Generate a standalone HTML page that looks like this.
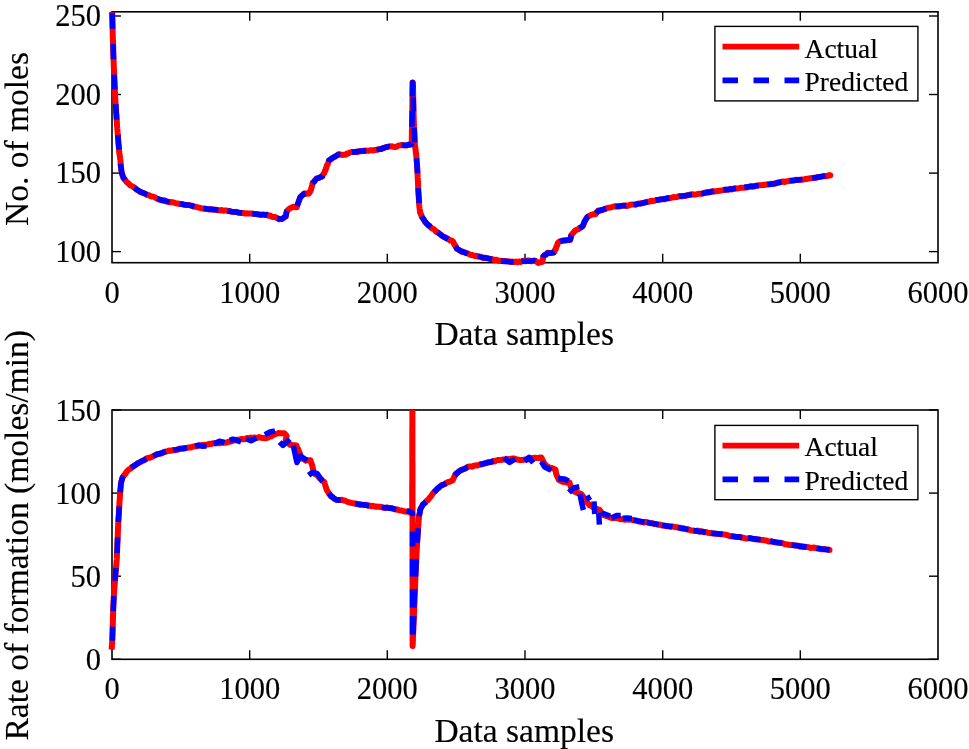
<!DOCTYPE html><html><head><meta charset="utf-8"><style>html,body{margin:0;padding:0;background:#fff;overflow:hidden}svg{display:block;will-change:transform}text{font-family:"Liberation Serif",serif;fill:#000;stroke:#000;stroke-width:0.15px}</style></head><body>
<svg width="969" height="749" viewBox="0 0 969 749">
<defs><clipPath id="c1"><rect x="100" y="11.8" width="850" height="270"/></clipPath><clipPath id="c2"><rect x="100" y="410.0" width="850" height="270"/></clipPath></defs>
<g stroke="#000" stroke-width="1.4" fill="none">
<rect x="112.0" y="11.8" width="826.0" height="250.89999999999998" stroke-width="1.6"/>
<line x1="249.7" y1="262.7" x2="249.7" y2="253.7"/>
<line x1="249.7" y1="11.8" x2="249.7" y2="20.8"/>
<line x1="387.3" y1="262.7" x2="387.3" y2="253.7"/>
<line x1="387.3" y1="11.8" x2="387.3" y2="20.8"/>
<line x1="525.0" y1="262.7" x2="525.0" y2="253.7"/>
<line x1="525.0" y1="11.8" x2="525.0" y2="20.8"/>
<line x1="662.7" y1="262.7" x2="662.7" y2="253.7"/>
<line x1="662.7" y1="11.8" x2="662.7" y2="20.8"/>
<line x1="800.3" y1="262.7" x2="800.3" y2="253.7"/>
<line x1="800.3" y1="11.8" x2="800.3" y2="20.8"/>
<line x1="112.0" y1="251.6" x2="121.0" y2="251.6"/>
<line x1="938.0" y1="251.6" x2="929.0" y2="251.6"/>
<line x1="112.0" y1="173.1" x2="121.0" y2="173.1"/>
<line x1="938.0" y1="173.1" x2="929.0" y2="173.1"/>
<line x1="112.0" y1="94.5" x2="121.0" y2="94.5"/>
<line x1="938.0" y1="94.5" x2="929.0" y2="94.5"/>
<line x1="112.0" y1="16.0" x2="121.0" y2="16.0"/>
<line x1="938.0" y1="16.0" x2="929.0" y2="16.0"/>
<rect x="112.0" y="410.0" width="826.0" height="249.29999999999995" stroke-width="1.6"/>
<line x1="249.7" y1="659.3" x2="249.7" y2="650.3"/>
<line x1="249.7" y1="410.0" x2="249.7" y2="419.0"/>
<line x1="387.3" y1="659.3" x2="387.3" y2="650.3"/>
<line x1="387.3" y1="410.0" x2="387.3" y2="419.0"/>
<line x1="525.0" y1="659.3" x2="525.0" y2="650.3"/>
<line x1="525.0" y1="410.0" x2="525.0" y2="419.0"/>
<line x1="662.7" y1="659.3" x2="662.7" y2="650.3"/>
<line x1="662.7" y1="410.0" x2="662.7" y2="419.0"/>
<line x1="800.3" y1="659.3" x2="800.3" y2="650.3"/>
<line x1="800.3" y1="410.0" x2="800.3" y2="419.0"/>
<line x1="112.0" y1="659.3" x2="121.0" y2="659.3"/>
<line x1="938.0" y1="659.3" x2="929.0" y2="659.3"/>
<line x1="112.0" y1="576.2" x2="121.0" y2="576.2"/>
<line x1="938.0" y1="576.2" x2="929.0" y2="576.2"/>
<line x1="112.0" y1="493.1" x2="121.0" y2="493.1"/>
<line x1="938.0" y1="493.1" x2="929.0" y2="493.1"/>
<line x1="112.0" y1="410.0" x2="121.0" y2="410.0"/>
<line x1="938.0" y1="410.0" x2="929.0" y2="410.0"/>
</g>
<g font-size="30.5" text-anchor="middle">
<text x="112.0" y="303.2">0</text>
<text x="112.0" y="699.0">0</text>
<text x="249.7" y="303.2">1000</text>
<text x="249.7" y="699.0">1000</text>
<text x="387.3" y="303.2">2000</text>
<text x="387.3" y="699.0">2000</text>
<text x="525.0" y="303.2">3000</text>
<text x="525.0" y="699.0">3000</text>
<text x="662.7" y="303.2">4000</text>
<text x="662.7" y="699.0">4000</text>
<text x="800.3" y="303.2">5000</text>
<text x="800.3" y="699.0">5000</text>
<text x="938.0" y="303.2">6000</text>
<text x="938.0" y="699.0">6000</text>
</g><g font-size="30.5" text-anchor="end">
<text x="101" y="261.6">100</text>
<text x="101" y="183.1">150</text>
<text x="101" y="104.5">200</text>
<text x="101" y="26.0">250</text>
<text x="101" y="670.1">0</text>
<text x="101" y="587.0">50</text>
<text x="101" y="503.9">100</text>
<text x="101" y="420.8">150</text>
</g>
<g font-size="33" text-anchor="middle">
<text transform="translate(524.2,344.8) scale(1.016,1)">Data samples</text>
<text transform="translate(524.2,741.7) scale(1.016,1)">Data samples</text>
<text transform="translate(28.1,139.0) rotate(-90) scale(1.016,1)">No. of moles</text>
<text transform="translate(28.1,535.3) rotate(-90) scale(1.016,1)">Rate of formation (moles/min)</text>
</g>
<g clip-path="url(#c1)" fill="none" stroke-width="5.7" stroke-linejoin="round">
<polyline points="112.2,11.8 112.2,13.3 112.3,15.1 112.3,17.1 112.4,19.1 112.4,20.8 112.4,22.4 112.5,24.8 112.5,26.1 112.6,28.6 112.6,29.9 112.7,31.5 112.7,33.7 112.8,35.5 112.8,38.0 112.9,39.8 113.0,41.5 113.0,43.2 113.1,45.2 113.2,47.4 113.2,49.5 113.3,51.1 113.3,53.4 113.4,55.3 113.5,57.5 113.5,58.9 113.6,60.7 113.7,63.2 113.8,64.9 113.8,67.0 113.9,68.8 114.0,70.5 114.1,72.7 114.2,74.5 114.3,76.9 114.3,78.6 114.4,80.6 114.5,82.8 114.6,84.1 114.7,86.4 114.8,88.1 114.8,89.8 114.9,92.3 115.0,93.8 115.1,96.3 115.2,97.8 115.4,100.2 115.5,102.1 115.6,103.6 115.8,106.0 115.9,107.2 116.0,109.3 116.1,111.4 116.2,113.2 116.4,115.2 116.5,117.3 116.6,119.4 116.8,121.2 116.9,122.7 117.0,125.3 117.2,127.2 117.3,128.8 117.5,130.9 117.6,132.3 117.8,134.4 118.0,136.2 118.1,138.2 118.3,140.3 118.4,142.7 118.6,144.0 118.8,146.1 118.9,147.9 119.1,150.6 119.2,152.1 119.4,153.6 119.7,155.3 119.9,156.7 120.2,158.9 120.4,159.7 120.5,161.3 120.6,164.0 120.7,165.5 121.0,167.1 121.2,169.3 121.5,171.2 121.7,172.6 122.3,174.8 122.8,176.3 123.4,177.8 124.3,178.9 125.1,179.7 126.0,181.2 127.4,182.8 128.9,183.8 130.3,185.5 131.9,186.0 133.5,187.0 135.1,188.0 136.7,189.7 138.3,190.4 139.9,191.8 141.4,192.3 142.9,193.0 144.4,193.4 145.9,194.3 147.4,195.0 149.2,195.3 151.1,196.5 152.9,196.5 154.8,197.2 156.7,198.5 158.5,199.3 160.3,199.8 162.2,200.4 164.1,200.3 166.1,201.3 168.0,201.9 170.0,202.3 171.9,202.1 173.9,202.5 175.8,203.2 177.8,203.4 179.7,204.1 181.7,204.0 183.6,204.8 185.6,205.1 187.5,205.1 189.5,205.0 191.4,205.6 193.4,206.5 195.3,206.7 197.2,207.2 199.2,207.6 201.1,208.3 203.1,208.5 205.0,208.7 206.8,209.1 208.7,209.4 210.6,209.3 212.4,209.5 214.2,209.8 216.1,209.8 217.9,210.3 219.8,210.4 221.7,210.0 223.5,210.8 225.4,210.3 227.3,210.8 229.2,210.9 231.1,211.6 233.0,212.0 234.8,212.1 236.7,211.8 238.6,212.8 240.5,213.1 242.4,212.9 244.3,213.4 246.2,213.3 248.1,213.4 250.0,213.5 251.8,213.4 253.7,213.9 255.6,213.9 257.5,214.2 259.4,214.8 261.3,214.9 263.1,214.4 265.0,215.0 266.9,214.6 268.5,215.7 270.2,215.6 271.9,216.7 273.5,217.0 275.3,217.1 277.2,218.1 279.0,219.3 280.4,219.1 281.9,219.1 283.2,218.3 284.5,217.0 285.8,216.7 286.1,214.4 286.4,212.9 286.7,211.2 287.7,210.3 288.6,209.5 289.6,208.5 290.9,207.9 292.2,207.3 293.5,206.8 295.1,207.2 296.8,207.2 297.3,205.1 297.8,203.7 298.4,202.4 299.0,200.5 299.6,199.2 300.2,197.4 301.5,196.1 302.7,194.8 304.0,193.5 305.6,193.9 307.2,193.2 308.8,193.6 309.8,192.0 310.8,190.2 311.3,188.4 311.8,186.5 312.2,185.0 312.7,182.7 314.0,181.8 315.2,180.0 316.5,178.7 317.9,178.2 319.4,177.6 320.9,176.8 322.3,176.3 323.2,174.3 324.2,172.9 324.8,171.6 325.4,170.2 325.9,168.8 326.5,166.8 327.1,165.1 327.8,163.8 328.4,162.3 329.1,160.4 330.4,159.7 331.7,158.5 333.0,157.9 334.3,157.0 335.7,156.4 337.0,155.5 338.4,154.2 340.2,154.5 342.0,154.9 343.8,154.7 345.6,154.8 347.0,153.5 348.4,153.4 349.8,152.5 351.4,152.0 352.9,152.0 354.4,151.9 356.0,151.7 357.7,152.1 359.4,151.2 361.1,151.2 362.9,151.1 364.7,150.6 366.5,150.8 368.3,150.8 370.0,150.3 371.8,150.3 373.5,150.5 375.1,149.9 376.6,149.8 378.1,149.3 379.7,149.1 381.4,149.1 383.2,148.0 384.9,147.8 386.3,146.9 387.6,147.1 389.0,146.5 390.6,146.5 392.1,146.3 393.6,146.8 395.2,147.1 396.9,146.7 398.6,145.4 400.3,145.3 401.9,145.1 403.4,145.2 404.9,145.6 406.5,145.5 408.2,144.6 410.0,144.8 411.7,144.1 411.7,142.3 411.8,140.6 411.8,138.5 411.8,136.3 411.9,135.1 411.9,133.3 411.9,130.8 412.0,128.8 412.0,127.6 412.0,125.5 412.1,123.7 412.1,121.5 412.1,119.1 412.2,117.6 412.2,115.8 412.2,113.4 412.3,111.6 412.3,109.9 412.3,108.3 412.3,105.9 412.4,103.9 412.4,102.0 412.4,99.9 412.4,98.6 412.5,96.0 412.5,94.7 412.5,92.0 412.5,90.0 412.5,88.0 412.6,86.2 412.6,84.8 412.6,82.4 412.9,82.5 412.9,84.3 413.0,86.2 413.0,88.1 413.1,90.5 413.1,92.1 413.2,94.1 413.2,96.3 413.2,98.6 413.3,99.8 413.3,102.4 413.4,104.2 413.4,105.7 413.4,108.5 413.5,110.5 413.5,111.9 413.6,113.8 413.6,116.2 413.7,118.2 413.7,120.2 413.8,122.0 413.9,124.1 414.0,126.2 414.1,127.6 414.2,129.5 414.3,131.9 414.3,133.2 414.4,135.6 414.5,137.3 414.6,139.0 414.7,141.4 414.8,143.5 414.9,145.3 415.1,146.8 415.4,148.9 415.6,150.0 415.8,152.3 416.1,153.7 416.3,156.0 416.4,157.0 416.6,159.1 416.7,160.7 416.9,163.0 417.0,164.3 417.1,166.2 417.3,168.0 417.4,170.2 417.5,172.2 417.6,173.4 417.6,175.4 417.7,177.7 417.8,179.0 417.9,181.3 418.0,182.3 418.1,184.4 418.1,186.7 418.2,188.6 418.3,189.8 418.4,192.3 418.5,193.3 418.6,195.5 418.8,197.3 418.9,198.9 419.0,201.1 419.1,202.8 419.2,204.7 419.4,207.1 419.6,208.6 419.9,210.5 420.1,212.8 420.7,213.7 421.2,214.8 421.8,216.9 422.4,217.6 423.3,218.9 424.2,220.3 425.2,222.2 426.1,222.9 427.3,224.3 428.5,225.4 429.6,226.0 430.8,227.5 432.2,228.5 433.6,229.0 435.0,230.4 436.4,231.9 437.8,232.3 439.1,233.5 440.5,234.3 441.9,235.8 443.5,236.8 445.1,237.3 446.8,238.3 448.4,239.0 450.0,240.4 451.5,240.5 453.1,241.7 454.0,243.7 454.9,245.3 455.5,245.8 456.2,247.4 456.8,248.6 458.3,249.5 459.9,250.6 461.4,251.7 462.9,251.6 464.4,252.3 465.9,253.0 467.4,253.4 468.9,254.0 470.7,255.0 472.6,255.0 474.4,256.0 476.3,255.8 478.1,256.6 480.0,256.5 481.8,257.5 483.7,258.0 485.5,257.8 487.4,258.1 489.3,258.8 491.1,259.0 493.0,259.4 494.8,260.1 496.7,259.8 498.4,260.7 500.0,260.8 501.6,260.8 503.1,261.2 504.6,261.0 506.2,261.2 507.8,261.3 509.3,261.4 510.8,261.9 512.4,261.6 514.1,262.0 515.8,261.6 517.5,262.2 519.0,261.5 520.6,261.9 522.2,261.2 523.7,260.8 525.5,261.3 527.4,260.6 529.2,260.6 531.0,261.3 532.5,260.9 534.1,260.7 535.5,260.8 536.8,261.8 538.2,262.9 539.6,262.4 540.9,262.2 542.3,261.8 542.6,260.5 543.0,258.2 543.3,256.7 544.7,254.9 546.1,254.7 547.5,252.8 549.0,253.0 550.6,253.1 552.2,252.5 553.7,252.4 554.4,251.8 555.0,250.0 555.7,249.0 556.2,247.4 556.8,245.8 557.3,244.8 557.8,243.0 559.2,241.8 560.5,241.2 561.9,240.8 563.6,240.4 565.2,240.5 566.9,240.3 568.5,239.9 570.2,239.9 570.5,238.2 570.9,237.3 571.2,235.3 572.2,233.9 573.3,232.8 574.3,231.4 575.6,230.3 576.9,229.6 578.2,229.4 579.5,228.0 581.0,227.3 582.6,226.1 583.3,225.1 583.9,223.2 584.6,221.6 585.6,220.0 586.7,217.8 587.7,216.9 589.1,215.9 590.6,215.2 592.2,214.7 593.8,214.1 595.3,214.3 596.3,212.7 597.4,211.7 598.4,210.5 600.2,210.7 602.0,210.1 603.8,209.5 605.6,208.7 607.1,208.1 608.7,207.7 610.2,207.5 611.8,207.1 613.7,206.5 615.5,206.3 617.4,206.5 619.2,206.5 621.1,205.9 623.0,205.6 624.8,205.5 626.7,206.0 628.5,205.5 630.4,204.7 632.1,204.5 633.8,204.5 635.5,204.7 637.3,203.9 639.0,203.4 640.7,203.5 642.4,203.0 644.1,202.8 645.9,202.0 647.6,201.8 649.3,201.8 651.0,200.7 652.7,200.9 654.5,200.7 656.2,200.0 657.9,200.1 659.7,199.5 661.4,199.3 663.1,199.3 664.8,199.2 666.6,198.5 668.3,198.0 670.0,198.2 671.7,197.7 673.4,197.0 675.1,197.2 676.9,197.0 678.6,196.3 680.3,196.1 682.0,196.4 683.7,196.0 685.5,195.9 687.2,195.3 688.9,195.0 690.6,194.4 692.3,194.2 694.1,194.7 695.8,194.6 697.5,193.9 699.3,193.8 701.0,193.7 702.7,193.5 704.4,192.8 706.1,192.3 707.9,192.1 709.6,192.4 711.3,191.5 713.0,191.3 714.7,191.5 716.5,191.1 718.2,191.1 719.9,190.7 721.6,190.4 723.3,190.1 725.0,189.6 726.8,189.7 728.5,189.8 730.2,188.8 731.9,189.5 733.6,188.5 735.3,188.2 737.0,188.4 738.8,188.2 740.5,187.8 742.2,187.8 743.9,187.7 745.7,187.5 747.4,187.4 749.1,186.6 750.9,186.2 752.6,186.8 754.3,186.5 756.0,185.8 757.8,185.4 759.5,185.2 761.2,185.2 762.9,184.8 764.7,185.0 766.5,184.4 768.2,184.4 770.0,184.2 771.8,183.8 773.6,183.9 775.5,183.5 777.3,182.7 779.2,182.2 781.0,181.9 782.9,181.5 784.7,182.0 786.6,181.2 788.4,181.2 790.3,180.7 792.1,180.7 794.0,180.6 795.8,179.8 797.7,179.9 799.5,179.8 801.4,179.8 803.3,179.6 805.1,179.0 807.0,178.9 808.8,178.4 810.7,178.2 812.6,178.0 814.4,177.8 816.3,177.8 818.1,177.0 820.0,176.9 821.7,176.6 823.4,176.1 825.1,176.3 826.8,176.0 828.5,175.5 830.2,175.3" stroke="#ff0000" stroke-width="6.0" stroke-linecap="butt"/>
<circle cx="830.2" cy="175.3" r="3.0" fill="#ff0000" stroke="none"/>
<path d="M112.2,12.7 L112.6,28.8 M113.1,44.0 L113.5,59.2 M114.2,74.7 L114.8,89.5 M115.7,104.1 L116.7,119.6 M117.8,134.9 L119.0,149.5 M120.6,163.8 L121.7,172.8 L123.4,177.6 L125.0,180.0 M134.1,187.7 L139.9,191.5 L147.4,194.7 M157.2,198.5 L162.2,200.4 L169.7,201.9 M179.9,203.8 L189.5,205.4 L194.5,206.5 M203.5,208.6 L218.4,210.0 M227.3,210.9 L242.1,212.9 M252.1,213.8 L266.9,214.9 L267.5,215.1 M277.1,218.2 L279.0,218.9 L281.9,218.8 L285.8,216.3 L286.7,211.5 L287.1,211.1 M297.2,205.8 L300.2,197.1 L304.0,193.8 L305.7,193.6 M312.5,183.6 L316.5,178.8 L322.3,176.4 L322.7,175.6 M328.5,161.9 L329.1,160.3 L334.3,156.7 L338.4,154.6 L340.4,154.6 M351.9,152.3 L361.1,151.0 L366.2,151.0 M376.5,149.9 L379.7,149.4 L384.9,147.4 L389.0,146.4 L389.9,146.5 M401.5,145.3 L406.5,145.3 L411.7,144.3 L411.7,143.4 M412.0,126.7 L412.3,110.9 M412.4,96.5 L412.6,82.5 L413.0,87.9 M413.2,97.4 L413.5,111.4 M414.1,127.7 L414.8,142.3 M416.5,158.2 L417.5,173.3 M418.2,188.2 L419.1,203.2 M421.7,216.4 L426.1,223.1 L430.6,227.1 M437.4,232.2 L441.9,235.6 L448.1,239.3 M455.6,246.2 L456.8,248.6 L461.4,251.4 L467.8,253.8 M477.8,256.4 L492.0,259.3 M500.9,261.0 L512.4,262.0 L513.5,262.0 M521.3,261.3 L531.0,260.9 L534.1,260.4 L535.4,261.1 M543.1,257.4 L543.3,256.3 L547.5,253.2 L553.7,252.7 L554.0,252.2 M560.1,241.7 L561.9,240.8 L570.2,239.8 L571.2,235.6 L571.5,235.1 M579.5,228.4 L582.6,226.4 L584.6,221.2 L587.7,216.5 L588.5,216.2 M595.9,213.3 L598.4,210.8 L606.2,208.5 M615.0,206.5 L626.3,205.6 M633.6,204.6 L640.7,203.6 L647.9,201.8 M655.6,200.3 L669.4,198.0 M678.8,196.5 L692.1,194.6 M701.0,193.7 L714.2,191.2 M723.1,190.0 L731.9,189.1 L736.0,188.5 M744.3,187.3 L758.8,185.6 M767.1,184.5 L773.6,183.7 L781.7,182.0 M789.5,180.8 L802.3,179.4 M812.2,178.3 L820.0,176.7 L825.5,175.9" stroke="#0000ff" stroke-width="5.5" stroke-linecap="butt"/>
</g>
<g clip-path="url(#c2)" fill="none" stroke-width="5.7" stroke-linejoin="round">
<polyline points="111.7,649.7 111.8,647.4 111.9,645.4 112.1,643.8 112.2,641.9 112.3,639.9 112.4,637.7 112.4,636.5 112.5,634.1 112.5,632.8 112.6,630.4 112.6,628.2 112.7,626.5 112.8,624.5 112.8,623.3 112.9,621.3 112.9,619.3 113.0,617.2 113.0,615.5 113.1,613.9 113.1,612.2 113.2,610.2 113.2,608.7 113.3,606.8 113.4,605.1 113.5,602.7 113.6,600.6 113.7,599.3 113.8,597.1 113.9,595.4 114.0,593.4 114.1,591.2 114.3,589.5 114.4,587.5 114.6,586.0 114.7,583.8 114.9,581.9 115.0,580.3 115.2,577.7 115.3,576.2 115.5,574.2 115.6,572.1 115.8,570.9 115.9,568.7 116.1,567.4 116.2,565.3 116.4,563.9 116.5,562.1 116.7,559.9 116.8,558.4 116.9,555.9 116.9,554.0 117.0,552.4 117.1,550.3 117.2,548.5 117.3,546.7 117.3,544.9 117.4,543.0 117.5,540.6 117.6,539.3 117.7,537.4 117.8,535.1 117.8,533.5 117.9,531.0 118.0,529.2 118.1,527.2 118.2,525.4 118.2,523.7 118.3,522.2 118.4,519.7 118.5,517.9 118.7,515.7 118.8,514.5 118.9,512.0 119.0,509.7 119.2,507.9 119.3,505.8 119.4,504.5 119.5,501.8 119.7,499.7 119.8,498.6 119.9,496.4 120.1,494.1 120.2,492.5 120.4,490.6 120.5,488.2 120.7,487.0 120.8,484.9 121.0,482.9 121.5,480.9 122.1,478.7 122.6,477.2 123.5,476.2 124.5,474.7 125.5,473.8 126.4,471.9 127.7,470.6 129.1,469.3 130.4,468.8 131.7,467.2 133.2,466.5 134.7,465.4 136.2,464.6 137.7,463.3 139.2,462.7 140.9,461.8 142.6,460.6 144.3,460.3 146.0,458.7 147.7,457.9 149.5,457.8 151.3,457.1 153.1,456.2 154.8,455.4 156.6,454.2 158.4,454.0 160.2,453.8 162.0,453.2 163.8,452.0 165.5,451.6 167.3,451.3 169.1,450.6 171.1,450.8 173.0,450.1 175.0,450.2 176.7,449.9 178.4,449.3 180.2,448.5 181.9,448.4 183.6,448.7 185.3,448.1 187.0,447.9 188.7,447.5 190.4,447.5 192.2,447.0 193.9,446.4 195.6,446.3 197.3,446.2 199.1,445.6 200.8,445.3 202.5,445.1 204.3,444.7 206.0,444.7 207.7,444.5 209.4,443.7 211.2,444.1 212.9,443.2 214.6,443.3 216.3,443.0 218.0,443.2 219.7,443.2 221.4,442.9 223.2,442.2 224.9,442.8 226.6,442.6 228.3,441.8 230.0,441.8 231.8,441.1 233.5,440.7 235.2,440.3 236.9,439.7 238.6,439.7 240.3,439.3 242.1,439.1 243.8,439.2 245.5,438.9 247.2,437.9 248.9,438.3 250.7,437.6 252.4,438.2 254.1,437.5 255.9,438.0 257.6,437.7 258.8,437.1 260.0,437.3 261.9,438.0 263.7,438.1 265.6,438.3 267.5,437.7 269.3,436.5 271.2,436.4 272.7,435.1 274.2,434.6 275.7,434.0 277.2,433.5 278.7,433.0 280.6,433.2 282.4,433.2 284.3,433.3 285.5,434.4 286.6,436.0 286.3,437.5 286.0,438.8 285.7,440.6 287.1,442.2 288.5,443.2 289.9,444.8 291.5,445.0 293.1,445.2 294.8,445.3 296.4,445.5 297.1,447.5 297.9,448.5 298.6,450.7 299.3,452.1 299.9,453.5 300.5,455.6 301.1,457.5 302.7,458.8 304.2,459.4 305.8,460.7 307.4,460.2 308.9,460.2 310.5,460.3 311.1,462.2 311.7,463.8 312.3,465.8 312.6,467.1 313.0,469.0 313.4,470.9 313.7,472.6 315.0,474.0 316.3,474.6 317.6,475.6 318.9,477.2 320.2,478.6 321.6,479.7 322.9,481.1 324.3,482.0 324.9,484.1 325.5,485.9 326.0,487.8 326.6,489.4 327.2,490.6 328.2,492.2 329.3,494.1 330.3,495.2 331.4,496.7 332.7,497.0 333.9,498.5 335.2,499.2 336.5,499.7 338.3,499.9 340.1,499.9 341.9,499.8 343.7,500.5 345.5,500.8 347.4,501.8 349.2,502.5 351.0,502.8 352.7,503.2 354.4,503.6 356.1,503.6 357.9,504.1 359.6,504.7 361.3,504.6 363.0,504.9 364.7,504.8 366.5,505.0 368.2,505.9 369.9,505.6 371.6,506.2 373.3,505.8 375.0,506.7 376.8,506.6 378.5,506.8 380.2,506.7 381.9,507.3 383.6,507.7 385.3,508.0 387.0,507.4 388.8,508.0 390.5,508.0 392.2,508.3 393.9,509.1 395.7,509.5 397.4,509.4 399.1,510.3 400.9,510.4 402.6,510.9 404.3,511.4 406.0,511.6 407.7,511.6 409.2,512.3 410.8,512.4 412.2,511.8 412.2,509.8 412.2,508.5 412.2,506.4 412.2,504.5 412.2,502.2 412.2,499.8 412.2,498.2 412.2,496.4 412.2,493.9 412.2,492.0 412.2,490.2 412.2,488.6 412.2,486.2 412.2,484.3 412.3,482.4 412.3,480.3 412.3,479.0 412.3,476.4 412.3,475.1 412.3,472.4 412.3,470.4 412.3,468.4 412.3,466.6 412.3,465.2 412.3,462.8 412.3,460.9 412.3,458.8 412.3,456.8 412.3,454.7 412.3,453.2 412.3,450.8 412.3,448.9 412.3,447.1 412.3,445.5 412.3,442.8 412.3,441.5 412.3,439.3 412.3,436.9 412.3,435.8 412.3,433.7 412.3,431.2 412.3,429.2 412.4,427.7 412.4,425.7 412.4,423.8 412.4,421.7 412.4,419.9 412.4,418.1 412.4,415.5 412.4,413.5 412.4,412.0 412.4,409.4 412.4,407.9 412.4,405.6 412.4,403.5 412.4,401.9 412.4,400.1 412.4,402.0 412.4,403.7 412.4,406.1 412.4,407.5 412.4,410.1 412.4,411.7 412.4,414.3 412.4,415.5 412.4,417.8 412.4,419.6 412.4,422.0 412.4,423.5 412.4,425.6 412.4,427.5 412.4,430.0 412.4,432.1 412.4,433.4 412.4,435.6 412.4,438.1 412.4,439.6 412.4,442.1 412.4,443.2 412.4,445.5 412.4,448.0 412.4,450.0 412.4,451.4 412.4,454.0 412.4,455.1 412.4,457.4 412.4,459.4 412.4,461.1 412.5,463.4 412.5,465.1 412.5,467.2 412.5,469.7 412.5,471.4 412.5,473.4 412.5,475.8 412.5,477.2 412.5,478.9 412.5,481.6 412.5,482.9 412.5,484.9 412.5,487.1 412.5,489.6 412.5,491.1 412.5,493.3 412.5,495.4 412.5,497.0 412.5,499.4 412.5,501.3 412.5,502.7 412.5,505.1 412.5,507.5 412.5,508.9 412.5,511.1 412.5,512.8 412.5,515.3 412.5,517.3 412.5,518.9 412.5,520.9 412.5,522.6 412.5,525.2 412.5,526.6 412.5,529.0 412.5,531.4 412.5,533.4 412.5,534.5 412.5,536.9 412.5,538.8 412.5,540.8 412.5,543.0 412.5,545.1 412.5,546.5 412.5,548.6 412.5,550.7 412.5,552.5 412.5,554.5 412.5,557.1 412.5,558.6 412.5,561.1 412.5,562.4 412.5,564.8 412.5,566.3 412.5,568.9 412.5,571.0 412.5,572.4 412.5,574.3 412.5,576.6 412.5,578.4 412.5,580.5 412.5,582.8 412.6,584.1 412.6,586.6 412.6,588.3 412.6,590.2 412.6,592.5 412.6,594.2 412.6,596.2 412.6,598.1 412.6,600.1 412.6,602.4 412.6,604.0 412.6,606.4 412.6,607.9 412.6,610.5 412.6,612.1 412.6,614.7 412.6,616.3 412.6,618.2 412.6,620.7 412.6,621.9 412.6,623.9 412.6,626.5 412.6,628.4 412.6,630.5 412.6,631.8 412.6,634.1 412.6,636.4 412.6,638.2 412.6,640.1 412.6,641.8 412.6,644.4 412.6,646.0 412.7,644.5 412.8,641.9 412.9,640.7 412.9,638.0 413.0,636.4 413.1,634.7 413.2,632.4 413.3,630.6 413.4,629.3 413.4,626.8 413.5,625.1 413.6,623.2 413.7,621.1 413.8,619.8 413.9,617.6 413.9,615.3 414.0,613.4 414.1,611.9 414.2,609.8 414.3,608.1 414.3,606.3 414.4,604.1 414.5,602.3 414.6,600.0 414.6,598.6 414.7,596.1 414.8,594.1 414.9,592.4 414.9,590.5 415.0,588.2 415.1,586.3 415.1,585.0 415.2,582.4 415.3,580.7 415.4,578.6 415.4,577.4 415.5,575.3 415.6,573.6 415.7,571.7 415.8,569.1 415.9,567.9 416.0,565.5 416.1,563.4 416.2,561.7 416.2,559.7 416.3,558.5 416.4,556.0 416.5,554.2 416.6,552.2 416.7,551.0 416.8,549.1 416.9,547.1 417.0,545.0 417.1,543.0 417.2,541.3 417.4,539.7 417.5,537.9 417.6,535.5 417.8,533.5 417.9,531.9 418.0,530.2 418.1,528.0 418.2,526.1 418.4,524.5 418.5,523.4 418.6,521.4 418.8,519.1 418.9,517.4 419.0,515.9 419.4,514.6 419.8,512.3 420.1,510.3 420.5,508.9 421.3,507.4 422.2,506.1 423.0,504.2 424.1,503.5 425.1,502.9 426.2,501.2 427.5,500.3 428.7,499.1 430.0,497.3 431.1,496.2 432.1,494.5 433.1,493.2 434.2,492.0 435.4,491.0 436.7,489.5 437.9,488.1 439.2,487.5 440.4,486.1 441.9,485.0 443.5,484.6 445.1,483.9 446.6,482.7 448.2,482.0 449.7,481.8 451.2,480.9 452.8,480.2 453.6,478.2 454.5,476.5 455.3,474.4 456.5,473.2 457.8,472.6 459.0,471.5 460.6,470.2 462.3,469.7 463.9,469.0 465.6,468.4 467.2,467.2 468.9,466.6 470.6,466.4 472.4,466.7 474.1,465.7 475.8,465.3 477.5,465.4 479.2,464.7 481.0,464.6 482.7,464.0 484.4,463.6 486.2,463.0 487.9,462.2 489.6,462.2 491.3,462.1 493.0,460.9 494.8,461.4 496.5,460.3 498.2,459.9 499.8,460.1 501.5,459.9 503.1,459.5 504.8,459.4 506.4,459.2 508.3,459.1 510.1,459.2 512.0,458.5 513.8,458.4 515.7,459.1 517.1,459.6 518.6,459.7 520.0,460.0 521.9,459.9 523.8,459.8 525.7,459.4 527.6,459.4 529.5,458.6 531.3,458.3 533.2,458.0 534.8,457.8 536.5,458.1 538.1,458.1 539.8,457.6 541.4,457.5 542.2,459.3 543.1,460.9 543.9,463.0 544.8,463.9 545.6,465.6 547.2,466.1 548.9,467.3 550.5,468.2 552.2,468.1 553.8,468.9 555.5,469.6 555.8,471.4 556.0,473.0 556.3,474.3 556.9,475.8 557.5,476.9 558.2,478.3 558.8,480.0 560.7,480.8 562.6,481.7 564.5,481.9 566.2,482.4 567.8,482.6 569.5,482.5 570.1,484.6 570.6,486.2 571.2,487.5 572.3,489.1 573.4,490.4 574.5,491.6 576.1,492.2 577.8,493.3 579.5,493.3 581.1,494.0 582.2,495.3 583.3,496.7 584.4,498.6 585.4,500.1 586.4,500.9 587.3,502.6 588.3,503.6 589.3,505.1 590.8,505.7 592.3,506.4 593.9,508.0 595.4,508.7 596.7,508.9 598.1,509.3 599.4,509.6 600.3,510.9 601.1,512.7 602.0,513.8 603.6,515.0 605.1,515.5 606.7,516.2 608.3,516.6 609.8,517.4 611.4,517.9 613.2,518.2 614.9,517.8 616.7,518.0 618.4,518.3 620.0,519.1 621.7,519.2 623.4,519.3 625.1,519.8 626.8,519.4 628.6,519.7 630.3,519.4 632.0,519.8 633.7,520.3 635.5,520.6 637.2,520.8 638.9,521.6 640.6,521.7 642.3,522.0 644.1,522.5 645.8,521.9 647.5,522.5 649.3,522.8 651.0,523.3 652.7,523.2 654.4,524.0 656.1,524.1 657.9,524.7 659.6,524.5 661.3,525.3 663.0,525.5 664.7,525.7 666.5,526.3 668.2,526.3 669.9,526.7 671.6,526.5 673.3,526.6 675.0,527.1 676.8,527.2 678.5,527.5 680.2,527.7 681.9,528.4 683.6,528.3 685.3,528.9 687.0,529.4 688.8,529.5 690.5,530.3 692.2,530.6 693.9,530.8 695.7,531.1 697.4,530.6 699.1,531.7 700.9,531.3 702.6,531.5 704.3,532.3 706.0,532.0 707.8,532.8 709.5,533.1 711.2,533.2 712.9,533.6 714.7,533.7 716.5,533.7 718.2,533.9 720.0,534.2 721.9,534.1 723.7,534.4 725.5,534.7 727.4,535.2 729.2,535.8 730.9,536.3 732.7,536.6 734.5,536.6 736.3,537.1 738.0,537.0 739.8,536.9 741.6,537.6 743.3,537.8 745.1,538.2 746.9,538.5 748.7,538.2 750.4,538.0 752.2,538.7 754.0,539.2 755.7,539.1 757.5,539.6 759.2,539.6 761.0,539.9 762.7,540.0 764.5,540.3 766.3,540.5 768.0,541.4 769.8,541.5 771.6,541.3 773.4,541.8 775.1,542.3 776.9,542.5 778.7,542.7 780.4,542.8 782.2,543.1 784.0,543.8 785.8,544.3 787.5,544.5 789.3,544.9 791.1,545.1 792.8,545.1 794.6,545.5 796.4,545.5 798.2,545.7 799.9,546.7 801.7,546.5 803.5,547.0 805.2,546.8 807.0,547.1 808.8,547.3 810.6,547.9 812.3,547.8 814.1,547.6 815.9,548.2 817.6,548.4 819.4,548.6 821.2,549.3 823.0,549.2 824.7,549.1 826.5,549.4 828.0,549.4 829.5,550.0" stroke="#ff0000" stroke-width="6.0" stroke-linecap="butt"/>
<circle cx="829.5" cy="550" r="3.0" fill="#ff0000" stroke="none"/>
<path d="M112.3,640.6 L112.7,626.7 M113.2,611.2 L113.9,596.0 M114.9,580.8 L116.0,568.0 M117.0,553.1 L117.7,537.3 M118.3,522.1 L119.3,506.5 M120.2,492.3 L121.0,482.7 L122.6,477.4 L123.6,476.0 M131.3,467.6 L139.2,462.4 L146.6,458.7 M153.2,456.0 L158.4,453.9 L166.0,451.6 M173.2,450.1 L187.1,447.8 M195.1,446.1 L198.5,445.0 L202.0,446.2 L206.5,446.0 M213.7,443.9 L219.4,441.2 L224.5,442.8 M229.7,440.3 L232.8,439.2 L241.0,441.9 M246.2,438.7 L250.9,440.8 L256.5,438.1 M264.8,434.6 L270.0,432.0 L275.0,430.9 M279.6,442.1 L282.9,445.4 L289.9,439.3 M293.2,445.4 L296.9,462.5 L300.5,456.0 L307.0,460.5 M308.6,475.3 L312.3,472.5 L317.0,473.4 L322.6,481.8 M328.9,493.3 L331.4,496.5 L336.5,500.1 L340.7,500.1 M355.1,503.8 L369.0,505.5 M381.9,507.3 L392.2,508.4 L396.2,509.4 M406.7,510.5 L410.8,512.0 L412.5,513.0 L412.6,516.2 M412.6,531.4 L412.6,546.5 M417.2,542.6 L418.2,528.2 M412.6,559.0 L412.6,576.6 M415.5,576.6 L416.4,559.0 M412.6,589.0 L412.6,607.6 M413.9,607.6 L414.7,589.0 M412.6,616.0 L412.6,634.5 M413.1,634.5 L413.7,616.0 M419.0,516.3 L420.5,509.0 L423.0,504.5 L426.0,501.7 M433.8,492.3 L440.4,486.1 L446.1,483.3 M454.9,475.6 L459.0,471.2 L467.2,467.5 L468.1,467.3 M479.5,464.5 L493.6,461.2 M503.9,457.7 L509.5,462.4 L515.2,458.8 M524.5,461.0 L529.0,457.5 L533.2,462.9 M541.4,461.6 L544.7,467.0 L551.3,470.3 M558.0,478.6 L564.5,479.0 L568.7,481.0 M569.0,492.5 L573.3,488.0 L579.3,486.7 M580.0,494.0 L581.5,502.0 L583.4,510.0 M586.0,499.4 L590.7,496.7 M594.0,501.4 L594.7,514.0 M598.7,512.7 L599.4,524.7 M601.4,512.7 L606.0,514.5 L610.0,516.0 M611.4,518.0 L616.7,515.4 L620.7,515.4 M622.7,518.2 L627.0,518.0 L631.9,518.5 M633.2,520.0 L644.6,522.1 M646.7,522.4 L658.7,524.6 M661.9,525.2 L672.5,526.8 M677.8,527.6 L688.5,529.5 M693.4,530.5 L705.8,532.2 M710.8,532.9 L720.0,533.9 L722.6,534.5 M730.6,536.0 L742.2,537.5 M747.8,538.1 L760.7,539.8 M770.1,541.3 L782.4,543.4 M791.7,545.1 L806.7,547.1 M816.5,548.2 L829.5,550.0" stroke="#0000ff" stroke-width="5.5" stroke-linecap="butt"/>
</g>
<rect x="714.9" y="26.4" width="203" height="74.5" fill="#fff" stroke="#000" stroke-width="1.4"/>
<line x1="722.5" y1="46.6" x2="799.2" y2="46.6" stroke="#ff0000" stroke-width="5.7"/>
<line x1="722.5" y1="80.3" x2="799.2" y2="80.3" stroke="#0000ff" stroke-width="5.7" stroke-dasharray="15.5 15.5"/>
<text transform="translate(804.6,57.7) scale(1.017,1)" font-size="27">Actual</text>
<text transform="translate(804.6,90.5) scale(1.017,1)" font-size="27">Predicted</text>
<rect x="714.9" y="425.4" width="203" height="74.3" fill="#fff" stroke="#000" stroke-width="1.4"/>
<line x1="722.5" y1="445.6" x2="799.2" y2="445.6" stroke="#ff0000" stroke-width="5.7"/>
<line x1="722.5" y1="479.3" x2="799.2" y2="479.3" stroke="#0000ff" stroke-width="5.7" stroke-dasharray="15.5 15.5"/>
<text transform="translate(804.6,455.6) scale(1.017,1)" font-size="27">Actual</text>
<text transform="translate(804.6,489.8) scale(1.017,1)" font-size="27">Predicted</text>
</svg></body></html>
